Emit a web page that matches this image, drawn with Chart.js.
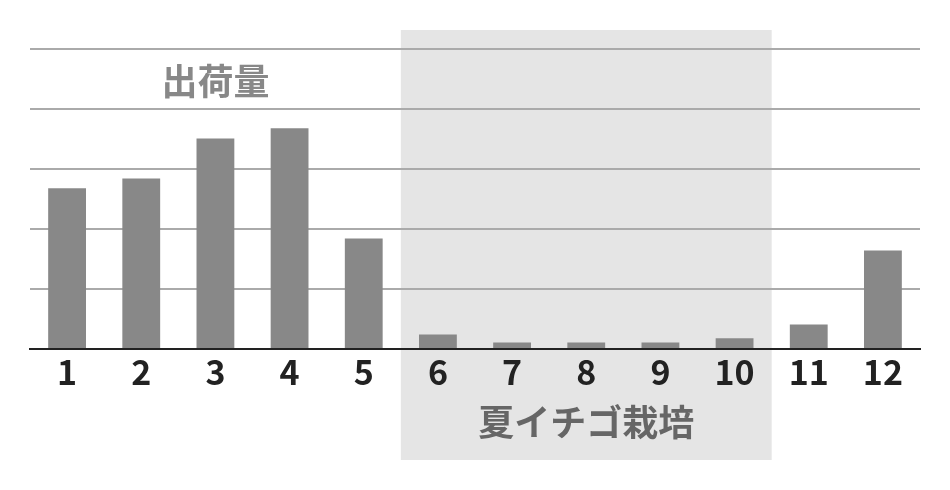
<!DOCTYPE html>
<html>
<head>
<meta charset="utf-8">
<script src="https://cdn.jsdelivr.net/npm/chart.js@4"></script>
<style>
  html, body { margin: 0; padding: 0; background: #fff; }
  #wrap { width: 950px; height: 490px; position: relative; }
</style>
</head>
<body>
<div id="wrap"><canvas id="shipChart"></canvas></div>
<script>
const months = ['1', '2', '3', '4', '5', '6', '7', '8', '9', '10', '11', '12'];
const shipments = [2.68, 2.84, 3.51, 3.68, 1.84, 0.24, 0.11, 0.11, 0.11, 0.18, 0.41, 1.64];
const summerMonths = ['6', '7', '8', '9', '10'];
const seriesLabel = '出荷量';
const summerLabel = '夏イチゴ栽培';

const FONT = "'Noto Sans CJK JP', 'Noto Sans', sans-serif";

function bandEdges(chart) {
    const x = chart.scales.x;
    const half = x.width / months.length / 2;
    const left = x.getPixelForValue(months.indexOf(summerMonths[0])) - half;
    const right = x.getPixelForValue(months.indexOf(summerMonths[summerMonths.length - 1])) + half;
    return [left, right];
}

// shaded band behind the summer months plus the two text labels
const bandPlugin = {
    id: 'band',
    beforeDraw(chart) {
        const ctx = chart.ctx;
        const [left, right] = bandEdges(chart);
        ctx.save();
        ctx.fillStyle = '#e5e5e5';
        ctx.fillRect(left, 30, right - left, 430);
        ctx.restore();
    },
    afterDraw(chart) {
        const ctx = chart.ctx;
        const x = chart.scales.x;
        const y = chart.scales.y;
        const [left, right] = bandEdges(chart);
        ctx.save();
        ctx.font = 'bold 36px ' + FONT;
        ctx.textAlign = 'center';
        ctx.textBaseline = 'middle';
        ctx.fillStyle = '#666666';
        ctx.fillText(summerLabel, (left + right) / 2, 422);
        ctx.fillStyle = '#888888';
        ctx.fillText(seriesLabel, x.getPixelForValue(2), y.getPixelForValue(4.5) + 2);
        ctx.restore();
    }
};

new Chart(document.getElementById('shipChart'), {
    type: 'bar',
    data: {
        labels: months,
        datasets: [{
            label: seriesLabel,
            data: shipments,
            backgroundColor: '#888888',
            categoryPercentage: 1,
            barPercentage: 0.51
        }]
    },
    options: {
        responsive: true,
        maintainAspectRatio: false,
        animation: false,
        layout: { padding: { left: 30, right: 30, top: 49, bottom: 0 } },
        plugins: { legend: { display: false }, tooltip: { enabled: false } },
        scales: {
            x: {
                grid: { display: false },
                border: { color: '#222222', width: 2 },
                ticks: {
                    color: '#222222',
                    padding: -5,
                    font: { family: FONT, size: 34, weight: 'bold' }
                },
                afterFit(scale) { scale.height = 141; }
            },
            y: {
                min: 0,
                max: 5,
                ticks: { display: false, stepSize: 1 },
                border: { display: false },
                grid: {
                    color: ctx => ctx.tick.value === 0 ? 'rgba(0,0,0,0)' : '#aaaaaa',
                    lineWidth: 2,
                    drawTicks: false
                },
                afterFit(scale) { scale.width = 0; }
            }
        }
    },
    plugins: [bandPlugin]
});
</script>
</body>
</html>
